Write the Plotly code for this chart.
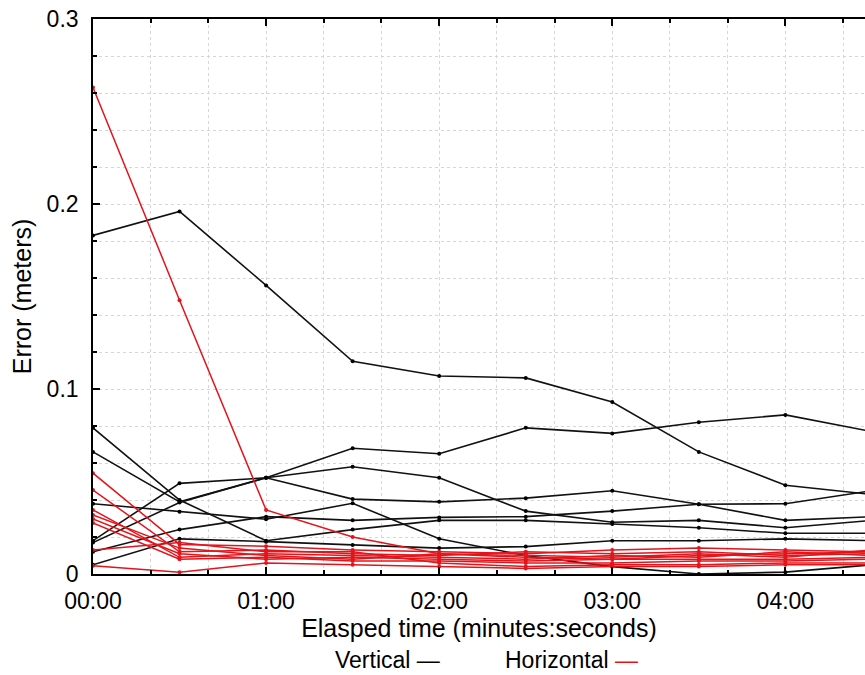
import plotly.graph_objects as go
import pandas as pd

# Elapsed time of each sample (seconds)
elapsed_s = [0, 30, 60, 90, 120, 150, 180, 210, 240, 270]

# Vertical error series (meters)
vert_a = [0.183, 0.196, 0.156, 0.115, 0.107, 0.106, 0.093, 0.066, 0.048, 0.043]
vert_b = [0.066, 0.039, 0.052, 0.068, 0.065, 0.079, 0.076, 0.082, 0.086, 0.077]
vert_c = [0.018, 0.049, 0.052, 0.058, 0.052, 0.034, 0.028, 0.029, 0.025, 0.029]
vert_d = [0.079, 0.040, 0.018, 0.024, 0.029, 0.029, 0.027, 0.025, 0.022, 0.022]
vert_e = [0.017, 0.0386, 0.052, 0.0405, 0.039, 0.041, 0.045, 0.0377, 0.029, 0.031]
vert_f = [0.038, 0.0337, 0.0296, 0.0382, 0.019, 0.010, 0.004, 0.000, 0.001, 0.005]
vert_g = [0.012, 0.024, 0.031, 0.029, 0.0306, 0.031, 0.034, 0.0377, 0.038, 0.045]
vert_h = [0.005, 0.019, 0.0175, 0.0157, 0.014, 0.0148, 0.018, 0.018, 0.019, 0.018]

# Horizontal error series (meters)
horz_1 = [0.263, 0.148, 0.0346, 0.020, 0.011, 0.009, 0.008, 0.010, 0.011, 0.012]
horz_2 = [0.0545, 0.016, 0.015, 0.013, 0.012, 0.011, 0.013, 0.014, 0.013, 0.012]
horz_3 = [0.0454, 0.012, 0.013, 0.011, 0.010, 0.012, 0.011, 0.012, 0.010, 0.011]
horz_4 = [0.0346, 0.009, 0.011, 0.010, 0.009, 0.008, 0.010, 0.009, 0.012, 0.010]
horz_5 = [0.0319, 0.014, 0.010, 0.008, 0.011, 0.010, 0.009, 0.011, 0.009, 0.013]
horz_6 = [0.0297, 0.011, 0.008, 0.009, 0.008, 0.007, 0.008, 0.008, 0.008, 0.009]
horz_7 = [0.0276, 0.008, 0.009, 0.007, 0.007, 0.006, 0.006, 0.007, 0.007, 0.008]
horz_8 = [0.013, 0.017, 0.012, 0.012, 0.006, 0.004, 0.005, 0.005, 0.006, 0.006]
horz_9 = [0.0045, 0.001, 0.006, 0.005, 0.004, 0.003, 0.004, 0.004, 0.005, 0.005]

vertical = [vert_a, vert_b, vert_c, vert_d, vert_e, vert_f, vert_g, vert_h]
horizontal = [horz_1, horz_2, horz_3, horz_4, horz_5, horz_6, horz_7, horz_8, horz_9]

x_time = pd.to_datetime(elapsed_s, unit="s")

RED = "#e3141b"
FONT = "Liberation Sans, Arial, sans-serif"

fig = go.Figure()
for s in vertical:
    fig.add_trace(go.Scatter(x=x_time, y=s, mode="lines+markers",
                             line=dict(color="#111111", width=1.6),
                             marker=dict(color="black", size=4),
                             cliponaxis=False, showlegend=False))
for s in horizontal:
    fig.add_trace(go.Scatter(x=x_time, y=s, mode="lines+markers",
                             line=dict(color=RED, width=1.5),
                             marker=dict(color=RED, size=4),
                             cliponaxis=False, showlegend=False))

grid_col = "#d6d6d6"
fig.update_layout(
    width=865, height=675,
    margin=dict(l=93, r=0, t=19, b=101),
    paper_bgcolor="white", plot_bgcolor="white",
    font=dict(family=FONT, color="black"),
    xaxis=dict(
        type="date",
        range=[pd.Timestamp(0, unit="s"), pd.Timestamp(267.6, unit="s")],
        tickformat="%M:%S", dtick=60000, tick0=pd.Timestamp(0, unit="s"),
        ticks="inside", ticklen=7, tickwidth=1.5, tickcolor="black",
        showline=True, linecolor="black", linewidth=1.6, mirror="ticks",
        showgrid=True, gridcolor=grid_col, griddash="dot", gridwidth=1,
        minor=dict(dtick=20000, ticks="inside", ticklen=4, tickcolor="black",
                   showgrid=True, gridcolor=grid_col, griddash="dot", gridwidth=1),
        zeroline=False,
        tickfont=dict(size=23, family=FONT, color="black"),
        ticklabelstandoff=6,
        title=dict(text="Elasped time (minutes:seconds)",
                   font=dict(size=25, family=FONT, color="black"), standoff=2),
    ),
    yaxis=dict(
        range=[0, 0.3], dtick=0.1, tick0=0,
        ticks="inside", ticklen=7, tickwidth=1.5, tickcolor="black",
        showline=True, linecolor="black", linewidth=1.6, mirror=False,
        showgrid=True, gridcolor=grid_col, griddash="dot", gridwidth=1,
        minor=dict(dtick=0.02, ticks="inside", ticklen=4, tickcolor="black",
                   showgrid=True, gridcolor=grid_col, griddash="dot", gridwidth=1),
        zeroline=False,
        tickfont=dict(size=23, family=FONT, color="black"),
        ticklabelstandoff=8,
        title=dict(text="Error (meters)",
                   font=dict(size=25, family=FONT, color="black"), standoff=8),
    ),
    annotations=[
        dict(text="Vertical —", xref="paper", yref="paper",
             x=0.311, y=-0.155, xanchor="left", yanchor="middle",
             showarrow=False, font=dict(size=23, family=FONT, color="black")),
        dict(text="Horizontal <span style='color:" + RED + "'>—</span>",
             xref="paper", yref="paper",
             x=0.531, y=-0.155, xanchor="left", yanchor="middle",
             showarrow=False, font=dict(size=23, family=FONT, color="black")),
    ],
)

fig.write_html("out.html")
